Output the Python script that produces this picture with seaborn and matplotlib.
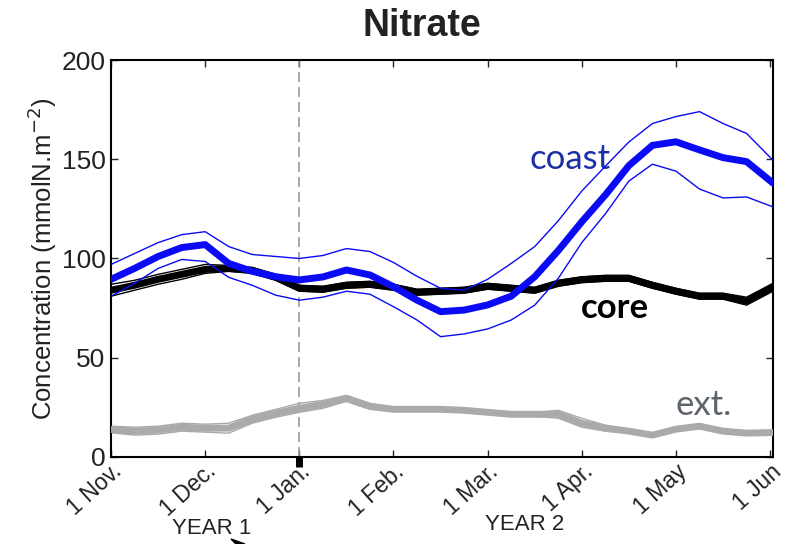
import numpy as np
import pandas as pd
import matplotlib
matplotlib.use("Agg")
import matplotlib.pyplot as plt
import matplotlib.transforms as mtrans
from matplotlib.patches import Polygon
import seaborn as sns

# month index: 0 = 1 Nov (Year 1) ... 7 = 1 Jun (Year 2)
months = [0, 0.25, 0.5, 0.75, 1.0, 1.25, 1.5, 1.75, 2.0, 2.25, 2.5, 2.75, 3.0, 3.25,
          3.5, 3.75, 4.0, 4.25, 4.5, 4.75, 5.0, 5.25, 5.5, 5.75, 6.0, 6.25, 6.5, 6.75, 7.03]

coast_mean = [89.5, 95, 101, 105.5, 107, 97.5, 93.5, 90.8, 89.2, 90.7, 94.2, 91.7, 85.8, 79,
              73.2, 74, 76.6, 81, 90.8, 104, 118.5, 132, 146.8, 157, 158.8, 154.7, 150.8, 148.8, 138]
coast_upper = [97, 102.5, 108, 112, 113.5, 106, 102, 101, 100, 101.5, 105, 103.5, 98, 91,
               85, 84, 89.5, 97.5, 106, 119, 134, 146.5, 158.7, 168, 171.5, 174, 168, 163, 149.5]
coast_lower = [81, 87.5, 95, 99.5, 98.5, 90.5, 86.5, 81.5, 79, 80.5, 83.5, 82, 75.7, 69,
               60.6, 62, 64.5, 69, 76.5, 90, 108, 122.5, 139, 147.5, 144, 135, 130.5, 131, 126]

core_mean = [84, 86.5, 89.5, 92, 94.5, 95, 94, 90.5, 85, 84.5, 86.5, 87, 85.5, 83,
             83.5, 84, 86, 85, 84, 87.5, 89.3, 90, 90, 86.5, 83.5, 81, 81, 78.5, 85.5]
core_upper = [87, 89, 92, 94.5, 97, 96.5, 95.5, 92, 86.5, 86, 88, 88.5, 87, 84.5,
              85, 85.5, 87.5, 86.5, 85.5, 89, 90.8, 91.5, 91.5, 88, 85, 82.5, 82.5, 80.5, 87.5]
core_lower = [81, 84, 87, 89.5, 92.5, 93.5, 92.5, 89, 83.5, 83, 85, 85.5, 84, 81.5,
              82, 82.5, 84.5, 83.5, 82.5, 86, 87.8, 88.5, 88.5, 85, 82, 79.5, 79.5, 76.5, 83.5]

ext_mean = [13.8, 13, 13.5, 15, 14.5, 14.5, 19, 22, 24.5, 26.5, 29.5, 25.5, 24, 24,
            24, 23.5, 22.5, 21.5, 21.5, 21.5, 17, 14.5, 13, 11, 14, 15.5, 13, 12, 12.3]
ext_upper = [15.5, 15, 15.5, 17, 16.5, 17, 21, 24, 27, 28.5, 31, 27, 25, 25,
             25, 24.5, 23.5, 22.5, 22.5, 23.5, 19.5, 16, 14, 12, 15, 16.5, 14, 13, 13.3]
ext_lower = [12.2, 11, 11.5, 13, 12.5, 12, 17, 20, 22.5, 24.5, 28, 24, 23, 23,
             23, 22.5, 21.5, 20.5, 20.5, 19.5, 15, 13, 12, 10, 13, 14.5, 12, 11, 11.3]

tick_pos = [0, 1, 2, 3, 4, 5, 6, 7]
tick_labels = ['1 Nov.', '1 Dec.', '1 Jan.', '1 Feb.', '1 Mar.', '1 Apr.', '1 May', '1 Jun']
y_ticks = [0, 50, 100, 150, 200]

sns.set_theme(style="ticks")
plt.rcParams['font.family'] = ['Liberation Sans', 'DejaVu Sans']

fig = plt.figure(figsize=(7.88, 5.44), dpi=100)
ax = fig.add_axes([0.1409, 0.160, 0.840, 0.7297])

df = pd.DataFrame({'m': months,
                   'coast_mean': coast_mean, 'coast_upper': coast_upper, 'coast_lower': coast_lower,
                   'core_mean': core_mean, 'core_upper': core_upper, 'core_lower': core_lower,
                   'ext_mean': ext_mean, 'ext_upper': ext_upper, 'ext_lower': ext_lower})

# vertical dashed line at 1 Jan
ax.axvline(2, color='#9a9a9a', lw=1.2, ls=(0, (6, 3)), zorder=1)

# ext
sns.lineplot(data=df, x='m', y='ext_upper', ax=ax, color='#aaaaaa', lw=1.0, zorder=2)
sns.lineplot(data=df, x='m', y='ext_lower', ax=ax, color='#aaaaaa', lw=1.0, zorder=2)
sns.lineplot(data=df, x='m', y='ext_mean', ax=ax, color='#aaaaaa', lw=5, zorder=3)

# core
sns.lineplot(data=df, x='m', y='core_upper', ax=ax, color='black', lw=1.0, zorder=4)
sns.lineplot(data=df, x='m', y='core_lower', ax=ax, color='black', lw=1.0, zorder=4)
sns.lineplot(data=df, x='m', y='core_mean', ax=ax, color='black', lw=5, zorder=5)

# coast
sns.lineplot(data=df, x='m', y='coast_upper', ax=ax, color='#0a0af5', lw=1.0, zorder=6)
sns.lineplot(data=df, x='m', y='coast_lower', ax=ax, color='#0a0af5', lw=1.0, zorder=6)
sns.lineplot(data=df, x='m', y='coast_mean', ax=ax, color='#0a0af5', lw=5, zorder=7)

ax.set_xlim(0, 7.03)
ax.set_ylim(0, 200)
ax.set_xticks(tick_pos)
offset = mtrans.ScaledTranslation(0.13, 0.02, fig.dpi_scale_trans)
ax.set_xticklabels(tick_labels, rotation=42, ha='right', va='top', rotation_mode='anchor',
                   fontsize=16.5, color='#222222')
for lbl in ax.get_xticklabels():
    lbl.set_transform(lbl.get_transform() + offset)
ax.set_yticks(y_ticks)
ax.set_yticklabels([str(v) for v in y_ticks], fontsize=19, color='#222222')
ax.tick_params(direction='in', length=5, width=1, top=True, right=True, pad=4)
ax.tick_params(axis='x', pad=2)
for s in ax.spines.values():
    s.set_linewidth(1.5)
    s.set_color('black')
ax.set_xlabel('')
ax.set_ylabel('Concentration (mmolN.m$^{-2}$)', fontsize=18.5, color='#222222', labelpad=2)

# black mark at 1 Jan on bottom axis
ax.plot([2, 2], [0, -5], color='black', lw=5, solid_capstyle='butt', clip_on=False, zorder=8)

# labels
ax.text(4.88, 150, 'coast', color='#1a2fa8', fontsize=25, ha='center', va='center',
        family=['Lato', 'DejaVu Sans'])
ax.text(5.35, 75, 'core', color='black', fontsize=25, fontweight='bold', ha='center', va='center',
        family=['Lato', 'DejaVu Sans'])
ax.text(6.29, 26, 'ext.', color='#5d636b', fontsize=25, ha='center', va='center',
        family=['Lato', 'DejaVu Sans'])

fig.text(422/788, 1 - 26/544, 'Nitrate', fontsize=27, fontweight='bold', ha='center', va='center',
         color='#222222')
fig.text(212/788, 1 - 528/544, 'YEAR 1', fontsize=16, ha='center', va='center', color='#222222')
fig.text(525/788, 1 - 525/544, 'YEAR 2', fontsize=16, ha='center', va='center', color='#222222')

# cut-off arrow tip at the bottom edge
fig.add_artist(Polygon([(231/788, 1 - 539/544), (245/788, 0.0), (236/788, 0.0)],
                       closed=True, color='black', transform=fig.transFigure))

fig.savefig('out.png', dpi=100)
